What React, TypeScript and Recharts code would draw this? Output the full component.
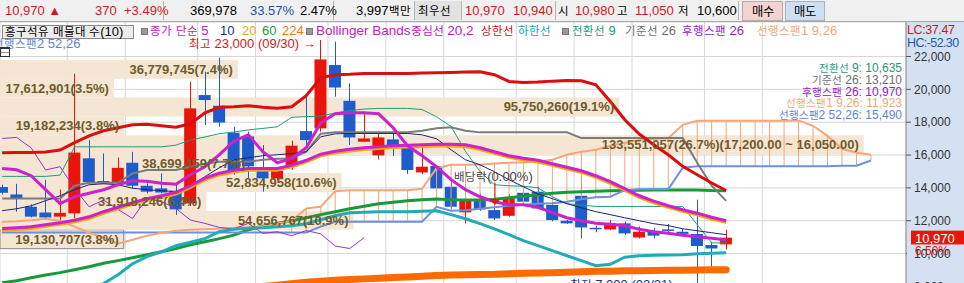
import React from 'react';
import {
  ComposedChart,
  Bar,
  Line,
  XAxis,
  YAxis,
  CartesianGrid,
  ReferenceLine,
  ReferenceArea,
  ReferenceDot,
} from 'recharts';

// Hangul gets its own, narrower face so the Korean labels keep the width of the original
const FONT = '"Liberation Sans", "KRNarrow", "Noto Sans CJK KR", sans-serif';
const PAGE_CSS = `
body{margin:0;overflow:hidden}
@font-face{font-family:"KRNarrow";src:local("Noto Sans CJK KR"),local("Noto Sans CJK KR Regular"),local("NotoSansCJKkr-Regular");size-adjust:88%;unicode-range:U+1100-11FF,U+3130-318F,U+AC00-D7AF;}
`;

// weekly candles
const opens = [14050, 13600, 12850, 12500, 12250, 12450, 15800, 14420, 14280, 15530, 14130, 13970, 13830, 13050, 19650, 19000, 17360, 17130, 15030, 14580, 15290, 17460, 17620, 21480, 19300, 16810, 15980, 16950, 16460, 14940, 15330, 14070, 12510, 13300, 12650, 12300, 13700, 13770, 12960, 12000, 13520, 11570, 11470, 11840, 10980, 11330, 11470, 11330, 11190, 10520, 10560];
const highs = [14200, 14250, 13000, 14500, 13900, 20950, 16900, 16100, 15850, 16200, 14270, 14880, 14170, 20460, 21070, 21940, 17720, 17430, 16610, 15150, 16870, 19550, 23000, 22900, 20360, 18530, 17420, 17310, 16460, 16500, 15400, 14430, 13560, 13650, 12900, 13600, 13900, 14070, 13000, 12050, 14780, 11700, 12050, 11950, 11650, 11550, 11800, 11500, 13280, 10720, 11450];
const lows = [13600, 12550, 12200, 12150, 11950, 12150, 14250, 14250, 14170, 13970, 13660, 13660, 12350, 12900, 17830, 17720, 14800, 14600, 13770, 14450, 15090, 16610, 17420, 19550, 16610, 16800, 15730, 15940, 14850, 14840, 13660, 12690, 11840, 12600, 12050, 12250, 13100, 12750, 11960, 11800, 10920, 11300, 11430, 11150, 10920, 10920, 11150, 11150, 7000, 9200, 10250];
const closes = [13700, 13350, 12250, 12200, 12480, 16150, 14350, 14350, 15220, 14130, 13770, 13720, 12690, 18840, 19350, 17980, 15000, 15310, 14580, 15030, 16570, 16910, 21820, 20110, 17070, 17010, 17070, 16440, 15090, 15290, 13970, 12850, 13260, 12690, 12140, 13360, 13160, 12750, 12040, 11840, 11590, 11500, 11840, 11230, 11330, 11090, 11400, 11200, 10460, 10310, 10970];

// moving averages / bands
const ma5 = [15180, 15100, 14740, 13890, 13040, 13460, 13670, 13890, 14190, 14430, 14400, 14280, 14220, 14800, 15290, 16020, 16840, 17230, 16200, 15530, 15800, 16440, 17960, 18510, 18570, 18570, 18510, 17660, 16560, 15960, 15290, 14500, 13890, 13460, 13160, 12970, 12970, 12820, 12490, 12180, 12000, 11850, 11790, 11700, 11480, 11330, 11240, 11120, 11030, 10940, 10830];
const ma10 = [12610, 12730, 12910, 13220, 13520, 13890, 14190, 14250, 14190, 13980, 13890, 13830, 13770, 14130, 14680, 15230, 15710, 15830, 15960, 16020, 16080, 16200, 17110, 17290, 17310, 17310, 17310, 17310, 17310, 17230, 16990, 16320, 15710, 15410, 14980, 14500, 14070, 13640, 13340, 13040, 12790, 12550, 12370, 12180, 12000, 11820, 11700, 11510, 11390, 11270, 11150];
const ma20 = [11420, 11470, 11530, 11660, 11780, 11930, 12140, 12450, 12720, 13000, 13240, 13420, 13630, 14030, 14490, 14790, 14970, 15080, 15080, 15080, 15280, 15580, 15950, 16130, 16250, 16340, 16400, 16460, 16490, 16520, 16550, 16550, 16520, 16340, 16100, 15860, 15700, 15580, 15370, 15160, 14940, 14640, 14280, 13850, 13420, 13090, 12810, 12570, 12360, 12110, 11900];
const ma60 = [8220, 8350, 8530, 8690, 8840, 9020, 9200, 9410, 9570, 9750, 9930, 10110, 10300, 10540, 10720, 10910, 11120, 11450, 11660, 11840, 12000, 12180, 12370, 12550, 12730, 12880, 13040, 13130, 13220, 13280, 13320, 13280, 13260, 13260, 13310, 13400, 13490, 13580, 13670, 13730, 13770, 13800, 13830, 13840, 13860, 13870, 13870, 13870, 13870, 13840, 13830];
const MA224_FROM = 18;
const ma224 = [8000, 8080, 8170, 8250, 8320, 8370, 8420, 8460, 8500, 8540, 8580, 8620, 8660, 8690, 8710, 8730, 8740, 8770, 8800, 8820, 8840, 8870, 8900, 8920, 8930, 8950, 8960, 8970, 8980, 8990, 9000, 9010, 9020];
const bbMid = [11520, 11570, 11630, 11760, 11880, 12030, 12240, 12550, 12820, 13100, 13340, 13520, 13730, 14130, 14590, 14890, 15070, 15180, 15180, 15180, 15380, 15680, 16050, 16230, 16350, 16440, 16500, 16560, 16590, 16620, 16650, 16650, 16620, 16440, 16200, 15960, 15800, 15680, 15470, 15260, 15040, 14740, 14380, 13950, 13520, 13190, 12910, 12670, 12460, 12210, 12000];
const bbUp = [16140, 16150, 16150, 16180, 16300, 16750, 17170, 17480, 17660, 17840, 17870, 17780, 17690, 17900, 18570, 18910, 18940, 19000, 18910, 18850, 18940, 19610, 20700, 20890, 20920, 20970, 20970, 20970, 20970, 20990, 21010, 21030, 21050, 21070, 20890, 20480, 20420, 20440, 20500, 20540, 20520, 20280, 19260, 18150, 17280, 16630, 16020, 15310, 14800, 14300, 13840];
const BB_LOW_FROM = 6;
const bbLow = [7900, 8170, 8710, 9380, 9810, 10110, 10480, 10690, 10910, 11330, 11480, 11540, 11570, 11630, 11700, 11820, 12060, 12300, 12490, 12520, 12550, 12550, 12550, 12580, 12610, 12370, 12120, 11820, 11510, 11150, 10790, 10480, 10180, 9870, 9570, 9260, 9350, 9780, 9870, 9900, 9910, 9930, 9990, 10020, 10050];

// ichimoku
const conv = [14700, 14700, 14700, 14700, 14780, 16500, 16500, 16500, 16500, 16500, 16500, 16500, 16600, 16910, 17100, 17300, 17400, 17530, 17620, 17720, 18300, 18340, 18370, 18560, 18700, 18800, 18840, 18840, 18840, 18770, 18330, 17740, 16220, 15000, 14190, 14130, 14100, 14010, 13460, 13040, 12950, 12870, 12870, 12870, 12870, 12870, 12870, 12870, 11760, 10660, 10635];
const base = [13360, 13360, 13360, 13360, 13360, 14130, 14310, 14310, 14310, 14880, 15090, 15090, 15090, 15290, 15470, 15590, 15590, 15590, 15710, 15770, 15790, 16200, 17300, 17390, 17390, 17390, 17390, 17390, 17390, 17480, 17630, 17690, 17480, 17380, 17380, 17380, 17380, 17380, 17380, 17380, 17030, 17030, 17030, 17030, 17030, 17030, 17030, 17030, 15530, 14130, 13210];
const lagSpan = [17010, 17070, 16440, 15090, 15290, 13970, 12850, 13260, 12690, 12140, 13360, 13160, 12750, 12040, 11840, 11590, 11500, 11840, 11230, 11330, 11090, 11400, 11200, 10460, 10310, 10970];
const spanA = [11940, 11970, 12030, 12120, 12000, 11640, 11270, 10970, 10600, 10840, 11090, 11270, 11390, 11450, 11480, 11510, 11570, 11600, 11660, 11820, 12000, 12750, 12850, 13800, 13860, 13860, 13860, 13860, 13860, 13950, 15200, 15410, 15410, 15410, 15490, 15530, 15560, 15610, 15710, 16020, 16200, 16320, 16560, 16750, 16900, 16990, 17020, 17840, 18090, 18090, 18090, 18090, 18090, 18090, 18090, 18110, 17780, 17170, 16380, 16140, 16020];
const spanB = [11290, 11290, 11290, 11290, 11290, 11290, 11290, 11290, 11290, 11290, 11290, 11290, 11290, 11290, 11290, 11290, 11290, 11290, 11290, 11290, 11290, 11290, 11640, 11940, 11940, 11940, 11940, 11940, 11940, 11940, 12850, 12610, 12640, 12730, 12820, 12910, 12970, 13040, 13070, 13160, 13310, 13430, 13460, 13860, 13920, 13920, 13920, 15230, 15310, 15310, 15310, 15310, 15310, 15310, 15310, 15310, 15310, 15310, 15350, 15350, 15670];
const CLOUD_FROM = 20;
const spanNow = { a: 11923, b: 15490 };

// volume profile (매물대), bottom to top
const profileEdges = [10300, 11450, 12600, 13750, 14900, 16050, 17200, 18350, 19500, 20650, 21800];
const profileVolumes = [19130707, 54656767, 31918246, 52834958, 38699459, 133551057, 19182234, 95750260, 17612901, 36779745];
const profilePct = ['3.8', '10.9', '6.4', '10.6', '7.7', '26.7', '3.8', '19.1', '3.5', '7.4'];

const monthBreaks = [4.5, 8.5, 13.5, 17.5, 22.5, 26.5, 30.5, 35.5, 39.5, 43.5, 48.5, 52.5];
const yTicks = [8000, 10000, 12000, 14000, 16000, 18000, 20000, 22000];

const X_MIN = -0.15;
const X_MAX = 62.42;
const Y_MIN = 7600;
const Y_MAX = 24100;
const PROFILE_REACH = 59.5;
const HIGH_IDX = 22;
const LOW_IDX = 48;
const DIV_IDX = 34;

const UP = '#e8150d';
const DOWN = '#1e5ccc';

const fmt = (v: number) => v.toLocaleString('en-US');
const fmt2 = (v: number) => v.toLocaleString('en-US', { minimumFractionDigits: 2 });

const rows = spanA.map((_, i) => ({
  i,
  range: i < closes.length ? [lows[i], highs[i]] : null,
  o: opens[i],
  h: highs[i],
  l: lows[i],
  c: closes[i],
  ma5: ma5[i] ?? null,
  ma10: ma10[i] ?? null,
  ma20: ma20[i] ?? null,
  ma60: ma60[i] ?? null,
  ma224: i >= MA224_FROM ? ma224[i - MA224_FROM] ?? null : null,
  bbMid: bbMid[i] ?? null,
  bbUp: bbUp[i] ?? null,
  bbLow: i >= BB_LOW_FROM ? bbLow[i - BB_LOW_FROM] ?? null : null,
  conv: conv[i] ?? null,
  base: base[i] ?? null,
  lag: lagSpan[i] ?? null,
  spanA: spanA[i],
  spanB: spanB[i],
}));

const maxVol = Math.max(...profileVolumes);
const maxK = profileVolumes.indexOf(maxVol);
const lastClose = closes[closes.length - 1];
const bands = profileVolumes.map((vol, k) => {
  const lo = profileEdges[k];
  const hi = profileEdges[k + 1];
  const extra = k === maxK ? `(${fmt2(hi)} ~ ${fmt2(lo)})` : '';
  return {
    lo,
    hi,
    x2: X_MIN + (vol / maxVol) * (PROFILE_REACH - X_MIN),
    label: `${fmt(vol)}(${profilePct[k]}%)${extra}`,
    current: lastClose >= lo && lastClose < hi,
  };
});

function Candle(props: any) {
  const { x, y, width, height, payload } = props;
  if (!payload || payload.c == null) return <g />;
  const { o, h, l, c } = payload;
  const k = height / (h - l || 1);
  const py = (v: number) => y + (h - v) * k;
  const color = c >= o ? UP : DOWN;
  const cx = Math.round(x + width / 2) + 0.5;
  const top = py(Math.max(o, c));
  const bot = py(Math.min(o, c));
  return (
    <g>
      <line x1={cx} x2={cx} y1={y} y2={y + height} stroke={color} strokeWidth={1} />
      <rect x={x} y={top} width={width} height={Math.max(1.5, bot - top)} fill={color} />
    </g>
  );
}

function PriceChart() {
  return (
    <ComposedChart width={964} height={271} data={rows} margin={{ top: 0, right: 0, bottom: 0, left: 0 }}>
      <CartesianGrid stroke="#d6d6d6" />
      <XAxis type="number" dataKey="i" domain={[X_MIN, X_MAX]} ticks={monthBreaks} allowDataOverflow hide />
      <YAxis
        orientation="right"
        width={58}
        domain={[Y_MIN, Y_MAX]}
        allowDataOverflow
        ticks={yTicks}
        interval={0}
        tickSize={5}
        tickMargin={3}
        tickFormatter={fmt}
        axisLine={{ stroke: '#8a8a8a' }}
        tickLine={{ stroke: '#555' }}
        tick={{ fill: '#333', fontSize: 12, textAnchor: 'start', fontFamily: FONT }}
      />

      {bands.map((b, k) => (
        <ReferenceArea
          key={`band-${k}`}
          x1={X_MIN}
          x2={b.x2}
          y1={b.lo}
          y2={b.hi}
          fill="#f4e6d3"
          fillOpacity={1}
          stroke={b.current ? '#8a8a8a' : 'none'}
          ifOverflow="visible"
        />
      ))}

      {rows
        .filter((r) => r.i >= CLOUD_FROM && r.spanA > r.spanB)
        .map((r) => (
          <ReferenceLine
            key={`cloud-${r.i}`}
            segment={[{ x: r.i, y: r.spanB }, { x: r.i, y: r.spanA }]}
            stroke="#f0a574"
            strokeWidth={1}
          />
        ))}

      <Line dataKey="ma224" stroke="#ff6a00" strokeWidth={7} strokeLinecap="round" dot={false} isAnimationActive={false} />
      <Line dataKey="ma60" stroke="#169a3a" strokeWidth={3} dot={false} isAnimationActive={false} />
      <Line dataKey="spanB" stroke="#6d8fe0" strokeWidth={2} dot={false} isAnimationActive={false} />
      <Line dataKey="spanA" stroke="#f2a679" strokeWidth={2} dot={false} isAnimationActive={false} />
      <Line dataKey="lag" stroke="#9b30d0" strokeWidth={1} dot={false} isAnimationActive={false} />
      <Line dataKey="base" stroke="#7b7b7b" strokeWidth={2} dot={false} isAnimationActive={false} />
      <Line dataKey="conv" stroke="#1e9b7f" strokeWidth={1} dot={false} isAnimationActive={false} />
      <Line dataKey="ma10" stroke="#1a237e" strokeWidth={1} dot={false} isAnimationActive={false} />
      <Line dataKey="bbLow" stroke="#22aab8" strokeWidth={3} dot={false} isAnimationActive={false} />
      <Line dataKey="ma20" stroke="#f0a800" strokeWidth={3} dot={false} isAnimationActive={false} />
      <Line dataKey="bbMid" stroke="#cc22cc" strokeWidth={3} dot={false} isAnimationActive={false} />
      <Line dataKey="bbUp" stroke="#dc0d0d" strokeWidth={3} dot={false} isAnimationActive={false} />
      <Line dataKey="ma5" stroke="#cc22cc" strokeWidth={3} dot={false} isAnimationActive={false} />

      <Bar dataKey="range" barSize={12} shape={Candle} isAnimationActive={false} />

      {bands.map((b, k) => (
        <ReferenceDot
          key={`bandlabel-${k}`}
          x={b.x2}
          y={(b.lo + b.hi) / 2}
          ifOverflow="visible"
          shape={(p: any) => (
            <text x={p.cx - 5} y={p.cy + 4.5} textAnchor="end" fontSize={13} fontWeight="bold" fill="#6f5b2c" fontFamily={FONT}>
              {b.label}
            </text>
          )}
        />
      ))}

      <ReferenceDot
        x={HIGH_IDX}
        y={highs[HIGH_IDX]}
        ifOverflow="visible"
        shape={(p: any) => (
          <text x={p.cx - 5} y={p.cy + 7.5} textAnchor="end" fontSize={13} fill="#d21a1a" fontFamily={FONT}>
            {`최고 ${fmt(highs[HIGH_IDX])} (09/30) →`}
          </text>
        )}
      />
      <ReferenceDot
        x={LOW_IDX}
        y={Y_MIN}
        ifOverflow="visible"
        shape={(p: any) => (
          <text x={p.cx - 8} y={p.cy - 4} textAnchor="end" fontSize={13} fill="#1b2f8f" fontFamily={FONT}>
            {`최저 ${fmt(lows[LOW_IDX])} (02/21) →`}
          </text>
        )}
      />
      <ReferenceDot
        x={DIV_IDX}
        y={12900}
        ifOverflow="visible"
        shape={(p: any) => (
          <g>
            <line x1={p.cx + 0.5} x2={p.cx + 0.5} y1={p.cy - 23} y2={p.cy - 6} stroke={UP} />
            <polygon points={`${p.cx - 5},${p.cy - 7} ${p.cx + 6},${p.cy - 7} ${p.cx + 0.5},${p.cy - 1}`} fill={UP} />
            <text x={p.cx - 1} y={p.cy - 25} textAnchor="middle" fontSize={13} fill="#444" fontFamily={FONT}>
              배당락(0.00%)
            </text>
          </g>
        )}
      />
      <ReferenceDot
        x={X_MAX}
        y={lastClose}
        ifOverflow="visible"
        shape={(p: any) => (
          <g>
            <rect x={p.cx + 5} y={p.cy - 7} width={58} height={14} fill={UP} />
            <text x={p.cx + 9} y={p.cy + 5} fontSize={13} fill="#fff" fontFamily={FONT}>
              {fmt(lastClose)}
            </text>
            <rect x={p.cx + 1} y={p.cy + 7} width={58} height={10} fill="#d5e1f2" />
            <text x={p.cx + 9} y={p.cy + 17} fontSize={12} fill="#e8150d" fontFamily={FONT}>
              6.50%
            </text>
          </g>
        )}
      />
    </ComposedChart>
  );
}

function Txt({ x, y, c = '#000', s = 13, children }: any) {
  return (
    <span style={{ position: 'absolute', left: x, top: y, color: c, fontSize: s, lineHeight: '16px', whiteSpace: 'nowrap' }}>
      {children}
    </span>
  );
}

function TopBar() {
  const red = '#d21a1a';
  const divider = (x: number) => (
    <div key={x} style={{ position: 'absolute', left: x, top: 1, width: 1, height: 19, background: '#b4b4b4' }} />
  );
  return (
    <div style={{ position: 'absolute', left: 0, top: 0, width: 964, height: 21, background: '#f0f0f0', borderBottom: '1px solid #a8a8a8' }}>
      <div style={{ position: 'absolute', left: 414, top: 1, width: 47, height: 19, background: '#e2e2e2' }} />
      {[163, 333, 414, 461, 555, 738].map(divider)}
      <Txt x={5} y={3} c={red}>10,970 ▲</Txt>
      <Txt x={95} y={3} c={red}>370</Txt>
      <Txt x={124} y={3} c={red}>+3.49%</Txt>
      <Txt x={190} y={3}>369,978</Txt>
      <Txt x={250} y={3} c="#1f4fa8">33.57%</Txt>
      <Txt x={300} y={3}>2.47%</Txt>
      <Txt x={356} y={3}>3,997백만</Txt>
      <Txt x={418} y={3}>최우선</Txt>
      <Txt x={465} y={3} c={red}>10,970</Txt>
      <Txt x={513} y={3} c={red}>10,940</Txt>
      <Txt x={558} y={3}>시</Txt>
      <Txt x={575} y={3} c={red}>10,980</Txt>
      <Txt x={617} y={3}>고</Txt>
      <Txt x={635} y={3} c={red}>11,050</Txt>
      <Txt x={678} y={3}>저</Txt>
      <Txt x={697} y={3}>10,600</Txt>
      <div style={{ position: 'absolute', left: 742, top: 1, width: 39, height: 18, background: '#f2d3cf', border: '1px solid #b9a9a9', fontSize: 14, lineHeight: '18px', textAlign: 'center' }}>매수</div>
      <div style={{ position: 'absolute', left: 785, top: 1, width: 38, height: 18, background: '#cfdff2', border: '1px solid #a9b3c2', fontSize: 14, lineHeight: '18px', textAlign: 'center' }}>매도</div>
    </div>
  );
}

function LegendRow() {
  const bullet = (x: number) => (
    <div key={x} style={{ position: 'absolute', left: x, top: 28, width: 5, height: 5, background: '#9a9a9a', border: '1px solid #777' }} />
  );
  return (
    <>
      <div style={{ position: 'absolute', left: 2, top: 25, width: 128, height: 12, background: '#ececec', border: '1px solid #8a8a8a', fontSize: 13, lineHeight: '12px', paddingLeft: 2, whiteSpace: 'nowrap' }}>
        흥구석유 매물대 수(10)
      </div>
      {[141, 306, 562].map(bullet)}
      <Txt x={150} y={23} s={13} c="#c020c0">종가 단순 5</Txt>
      <Txt x={220} y={23} s={13} c="#1c2a8c">10</Txt>
      <Txt x={242} y={23} s={13} c="#e8a818">20</Txt>
      <Txt x={262} y={23} s={13} c="#169a3a">60</Txt>
      <Txt x={282} y={23} s={13} c="#e87a10">224</Txt>
      <Txt x={316} y={23} s={13.5} c="#c020c0">Bollinger Bands중심선 20,2</Txt>
      <Txt x={481} y={23} s={13} c="#c81010">상한선</Txt>
      <Txt x={518} y={23} s={13} c="#20a0b0">하한선</Txt>
      <Txt x={572} y={23} s={13} c="#1e9b7f">전환선 9</Txt>
      <Txt x={625} y={23} s={13} c="#6e6e6e">기준선 26</Txt>
      <Txt x={682} y={23} s={13} c="#8e24c0">후행스팬 26</Txt>
      <Txt x={757} y={23} s={13} c="#eea77a">선행스팬1 9,26</Txt>
      <Txt x={-7} y={36} s={13} c="#5e84d6">선행스팬2 52,26</Txt>
      <div style={{ position: 'absolute', left: 0, top: 47, width: 8, height: 8, border: '1px solid #333', background: 'linear-gradient(#333 0 1px, #fff 1px 4px, #999 4px 5px, #fff 5px)' }} />
      <span style={{ position: 'absolute', left: 907, top: 22, fontSize: 12.5, lineHeight: '16px', color: '#d01515', letterSpacing: -0.4 }}>LC:37.47</span>
      <span style={{ position: 'absolute', left: 907, top: 35, fontSize: 12.5, lineHeight: '16px', color: '#2058b8', letterSpacing: -0.6 }}>HC:-52.30</span>
    </>
  );
}

function IchimokuValues() {
  const items = [
    [`전환선 9: ${fmt(conv[conv.length - 1])}`, '#1d9a7c'],
    [`기준선 26: ${fmt(base[base.length - 1])}`, '#6e6e6e'],
    [`후행스팬 26: ${fmt(lastClose)}`, '#8e24c0'],
    [`선행스팬1 9,26: ${fmt(spanNow.a)}`, '#eea77a'],
    [`선행스팬2 52,26: ${fmt(spanNow.b)}`, '#5e84d6'],
  ];
  return (
    <div style={{ position: 'absolute', right: 62, top: 63, textAlign: 'right', fontSize: 12, lineHeight: '11.8px' }}>
      {items.map(([t, c]) => (
        <div key={t} style={{ color: c, whiteSpace: 'nowrap' }}>{t}</div>
      ))}
    </div>
  );
}

export default function App() {
  return (
    <div style={{ position: 'relative', width: 964, height: 283, overflow: 'hidden', background: '#fff', fontFamily: FONT }}>
      <style>{PAGE_CSS}</style>
      <div style={{ position: 'absolute', left: 906, top: 22, width: 58, height: 261, background: '#d5e1f2' }} />
      <div style={{ position: 'absolute', left: 0, top: 22 }}>
        <PriceChart />
      </div>
      <TopBar />
      <LegendRow />
      <IchimokuValues />
    </div>
  );
}
